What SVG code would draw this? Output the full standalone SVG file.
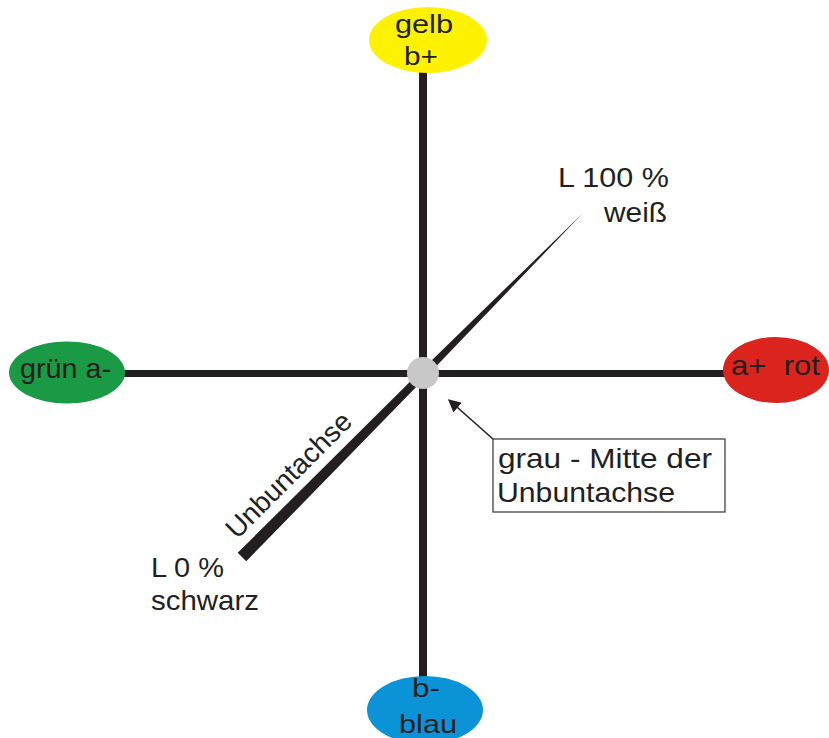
<svg xmlns="http://www.w3.org/2000/svg" width="829" height="738" viewBox="0 0 829 738">
  <style>
    text { font-family: "Liberation Sans", Arial, sans-serif; fill: #231f20; }
    .axis { stroke: #231f20; fill: none; }
    .lbl { font-size: 28px; }
    .pole { font-size: 26px; }
  </style>
  <defs>
    <marker id="arrowHead" viewBox="0 0 10 10" refX="9" refY="5" markerWidth="8" markerHeight="8" orient="auto-start-reverse" markerUnits="strokeWidth">
      <path d="M0,0 L10,5 L0,10 z" fill="#231f20"/>
    </marker>
  </defs>
  <rect width="829" height="738" fill="#ffffff"/>

  <!-- axes and connectors -->
  <g id="connectors">
    <line class="axis" x1="423" y1="60" x2="423" y2="690" stroke-width="8"/>
    <line class="axis" x1="110" y1="373.5" x2="735" y2="373.5" stroke-width="7"/>
    <!-- lightness axis: thick at the black end, tapering towards white -->
    <polygon points="237.7,552.8 420.3,371.5 583,213 425.9,377.1 246.3,561.2" fill="#231f20"/>
    <!-- pointer from the note to the grey centre -->
    <line x1="493" y1="439" x2="449" y2="400" stroke="#231f20" stroke-width="1.6" marker-end="url(#arrowHead)"/>
  </g>

  <g id="node-gelb">
    <ellipse cx="428" cy="40" rx="59" ry="33" fill="#fff200"/>
    <text class="pole" x="395" y="33" textLength="58" lengthAdjust="spacingAndGlyphs">gelb</text>
    <text class="pole" x="404" y="65" textLength="34" lengthAdjust="spacingAndGlyphs">b+</text>
  </g>

  <g id="node-gruen">
    <ellipse cx="67" cy="372.5" rx="58" ry="31" fill="#1a9a44"/>
    <text class="lbl" x="20" y="378" textLength="91" lengthAdjust="spacingAndGlyphs">grün a-</text>
  </g>

  <g id="node-rot">
    <ellipse cx="776" cy="370" rx="53" ry="33" fill="#dc241f"/>
    <text class="lbl" x="731" y="375" textLength="89" lengthAdjust="spacingAndGlyphs" xml:space="preserve">a+  rot</text>
  </g>

  <g id="node-blau">
    <ellipse cx="425" cy="710" rx="58" ry="34" fill="#0b93d8"/>
    <text class="pole" x="412" y="697" textLength="28" lengthAdjust="spacingAndGlyphs">b-</text>
    <text class="pole" x="399" y="733" textLength="58" lengthAdjust="spacingAndGlyphs">blau</text>
  </g>

  <g id="node-grau">
    <circle cx="423" cy="373" r="16" fill="#c8c8c8"/>
  </g>

  <g id="node-weiss">
    <text class="lbl" x="558" y="187" textLength="111" lengthAdjust="spacingAndGlyphs">L 100 %</text>
    <text class="lbl" x="604" y="222" textLength="63" lengthAdjust="spacingAndGlyphs">weiß</text>
  </g>

  <g id="node-schwarz">
    <text class="lbl" x="151" y="577" textLength="73" lengthAdjust="spacingAndGlyphs">L 0 %</text>
    <text class="lbl" x="151" y="610" textLength="108" lengthAdjust="spacingAndGlyphs">schwarz</text>
  </g>

  <g id="label-unbuntachse">
    <text class="lbl" transform="translate(237,540) rotate(-45)" x="0" y="0" textLength="165" lengthAdjust="spacingAndGlyphs">Unbuntachse</text>
  </g>

  <g id="node-note">
    <rect x="493" y="439" width="232" height="73" fill="#ffffff" stroke="#333333" stroke-width="1.2"/>
    <text class="lbl" x="498" y="468" textLength="214" lengthAdjust="spacingAndGlyphs">grau - Mitte der</text>
    <text class="lbl" x="497" y="502" textLength="178" lengthAdjust="spacingAndGlyphs">Unbuntachse</text>
  </g>
</svg>
